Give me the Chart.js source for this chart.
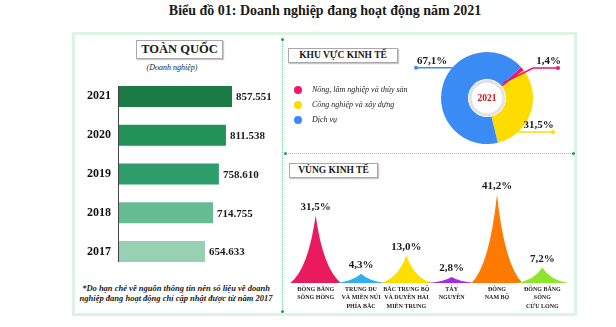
<!DOCTYPE html>
<html>
<head>
<meta charset="utf-8">
<script src="https://cdn.jsdelivr.net/npm/chart.js@4.4.0/dist/chart.umd.min.js"></script>
<style>
  body { margin: 0; width: 616px; height: 327px; background: #fff; position: relative; overflow: hidden; font-family: "Liberation Serif", serif; color: #1a1a1a; }
  .abs { position: absolute; }
  #title { left: 100px; width: 450px; top: 3px; text-align: center; font-weight: bold; font-size: 14px; }
  #frame { left: 72px; top: 32px; width: 505px; height: 284px; box-sizing: border-box; border: 3px solid #dcf4e4; }
  .tbox { background: #fff; border: 1px solid #a9a9a9; box-shadow: 1px 1px 1px #c8c8c8; box-sizing: border-box; text-align: center; font-weight: bold; }
  #tq { left: 136px; top: 40px; width: 87px; height: 19px; font-size: 12.5px; line-height: 17px; }
  #unit { left: 122px; width: 100px; top: 63px; text-align: center; font-style: italic; font-size: 8px; }
  #kv { left: 288px; top: 48px; width: 110px; height: 15px; font-size: 9.5px; line-height: 13px; }
  #vk { left: 289px; top: 163px; width: 89px; height: 15px; font-size: 9.5px; line-height: 13px; }
  #note { left: 70px; width: 212px; top: 283px; text-align: center; font-style: italic; font-weight: bold; font-size: 8.5px; line-height: 10px; }
  .vline { left: 282px; top: 39px; height: 272px; border-left: 1px dotted #7fcf9f; }
  .hline { left: 285px; top: 153px; width: 288px; border-top: 1px dotted #7fcf9f; }
  .dot { width: 3px; height: 3px; border-radius: 50%; background: #1f9a55; }
  canvas { position: absolute; }
</style>
</head>
<body>
<div id="title" class="abs">Biểu đồ 01: Doanh nghiệp đang hoạt động năm 2021</div>
<div id="frame" class="abs"></div>
<div class="abs vline"></div>
<div class="abs hline"></div>
<div class="abs dot" style="left:281px;top:38px"></div>
<div class="abs dot" style="left:281px;top:310px"></div>
<div class="abs dot" style="left:284px;top:152px"></div>
<div class="abs dot" style="left:572px;top:152px"></div>

<div id="tq" class="abs tbox">TOÀN QUỐC</div>
<div id="unit" class="abs">(Doanh nghiệp)</div>
<div id="kv" class="abs tbox">KHU VỰC KINH TẾ</div>
<div id="vk" class="abs tbox">VÙNG KINH TẾ</div>
<div id="note" class="abs">*Do hạn chế về nguồn thông tin nên số liệu về doanh<br>nghiệp đang hoạt động chỉ cập nhật được từ năm 2017</div>

<canvas id="barChart" width="205" height="194" style="left:75px;top:77px"></canvas>
<canvas id="pieChart" width="290" height="112" style="left:285px;top:38px"></canvas>
<canvas id="peakChart" width="290" height="162" style="left:285px;top:153px"></canvas>

<script>
// Toàn quốc - số doanh nghiệp đang hoạt động
const years = ['2021', '2020', '2019', '2018', '2017'];
const firms = [857551, 811538, 758610, 714755, 654633];
const barColors = ['#1b7b44', '#229257', '#2e9d6b', '#67bb93', '#97d0b3'];

// Khu vực kinh tế
const sectors = ['Nông, lâm nghiệp và thủy sản', 'Công nghiệp và xây dựng', 'Dịch vụ'];
const sectorShares = [1.4, 31.5, 67.1];
const sectorColors = ['#f2156b', '#ffdc00', '#3b8bf5'];

// Vùng kinh tế
const regions = [
  ['ĐỒNG BẰNG', 'SÔNG HỒNG'],
  ['TRUNG DU', 'VÀ MIỀN NÚI', 'PHÍA BẮC'],
  ['BẮC TRUNG BỘ', 'VÀ DUYÊN HẢI', 'MIỀN TRUNG'],
  ['TÂY', 'NGUYÊN'],
  ['ĐÔNG', 'NAM BỘ'],
  ['ĐỒNG BẰNG', 'SÔNG', 'CỬU LONG']
];
const regionShares = [31.5, 4.3, 13.0, 2.8, 41.2, 7.2];
const regionColors = ['#ea1a5e', '#2eb0f2', '#ffde00', '#a52ae6', '#ff7a00', '#8fe52b'];

const serif = 'Liberation Serif';
const pct = v => v.toFixed(1).replace('.', ',') + '%';

// value labels + axis line for the bar chart
const barLabels = {
  id: 'barLabels',
  afterDatasetsDraw(chart) {
    const ctx = chart.ctx;
    const bars = chart.getDatasetMeta(0).data;
    ctx.save();
    ctx.strokeStyle = '#444';
    ctx.lineWidth = 1;
    ctx.beginPath();
    ctx.moveTo(chart.chartArea.left + 0.5, bars[0].y - bars[0].height / 2);
    ctx.lineTo(chart.chartArea.left + 0.5, bars[bars.length - 1].y + bars[bars.length - 1].height / 2);
    ctx.stroke();
    ctx.fillStyle = '#1a1a1a';
    ctx.font = 'bold 11px ' + serif;
    ctx.textBaseline = 'middle';
    bars.forEach((b, i) => {
      const txt = String(firms[i]).replace(/\B(?=(\d{3})+(?!\d))/g, '.');
      ctx.fillText(txt, b.x + 4, b.y + 1);
    });
    ctx.restore();
  }
};

new Chart(document.getElementById('barChart'), {
  type: 'bar',
  data: {
    labels: years,
    datasets: [{
      data: firms,
      backgroundColor: barColors,
      barPercentage: 0.75,
      categoryPercentage: 0.72
    }]
  },
  options: {
    indexAxis: 'y',
    responsive: false,
    animation: false,
    layout: { padding: { right: 29 } },
    plugins: { legend: { display: false }, tooltip: { enabled: false } },
    scales: {
      x: { display: false, min: 0, max: 1000000 },
      y: {
        grid: { display: false, drawTicks: false },
        border: { display: false },
        ticks: { color: '#111', padding: 7, font: { family: serif, size: 12, weight: 'bold' } },
        afterFit: s => { s.width = 43; s.paddingTop = 0; s.paddingBottom = 0; }
      }
    }
  },
  plugins: [barLabels]
});

// callout geometry (deg clockwise from top, radius px)
const calloutStyle = [
  { a0: 47, r0: 22, a1: 57, r1: 55, toX: 273 },
  { a0: 137.6, r0: 46, toX: 268 },
  { a0: 311, r0: 46, toX: 131 }
];

const pieExtras = {
  id: 'pieExtras',
  afterDatasetsDraw(chart) {
    const ctx = chart.ctx;
    const arcs = chart.getDatasetMeta(0).data;
    const cx = arcs[0].x, cy = arcs[0].y;
    const rIn = arcs[0].innerRadius;
    ctx.save();
    // centre
    ctx.fillStyle = '#fff';
    ctx.beginPath(); ctx.arc(cx, cy, rIn, 0, Math.PI * 2); ctx.fill();
    ctx.strokeStyle = '#e2e2e2'; ctx.lineWidth = 3;
    ctx.beginPath(); ctx.arc(cx, cy, rIn - 2, 0, Math.PI * 2); ctx.stroke();
    ctx.fillStyle = '#d0161d';
    ctx.font = 'bold 9.5px ' + serif;
    ctx.textAlign = 'center'; ctx.textBaseline = 'middle';
    ctx.fillText('2021', cx, cy + 1);

    // callouts
    const pt = (a, r) => [cx + r * Math.sin(a * Math.PI / 180), cy - r * Math.cos(a * Math.PI / 180)];
    sectorShares.forEach((v, i) => {
      const s = calloutStyle[i];
      const col = sectorColors[i];
      const p0 = pt(s.a0, s.r0);
      const p1 = s.a1 !== undefined ? pt(s.a1, s.r1) : p0;
      ctx.strokeStyle = col; ctx.fillStyle = col; ctx.lineWidth = 1.5;
      ctx.beginPath();
      ctx.moveTo(p0[0], p0[1]);
      ctx.lineTo(p1[0], p1[1]);
      ctx.lineTo(s.toX, p1[1]);
      ctx.stroke();
      ctx.beginPath(); ctx.arc(s.toX, p1[1], 2, 0, Math.PI * 2); ctx.fill();
      ctx.fillStyle = '#1a1a1a';
      ctx.font = 'bold 11px ' + serif;
      ctx.textBaseline = 'bottom';
      ctx.textAlign = 'center';
      ctx.fillText(pct(v), (p1[0] + s.toX) / 2 + (i === 2 ? -2 : 3), p1[1] - 1);
    });

    // legend
    ctx.textAlign = 'left'; ctx.textBaseline = 'middle';
    ctx.font = 'italic 8px ' + serif;
    sectors.forEach((name, i) => {
      const y = 52 + i * 15;
      ctx.fillStyle = sectorColors[i];
      ctx.beginPath(); ctx.arc(13, y, 4, 0, Math.PI * 2); ctx.fill();
      ctx.fillStyle = '#222';
      ctx.fillText(name, 27, y);
    });
    ctx.restore();
  }
};

new Chart(document.getElementById('pieChart'), {
  type: 'doughnut',
  data: {
    labels: sectors,
    datasets: [{ data: sectorShares, backgroundColor: sectorColors, borderWidth: 0 }]
  },
  options: {
    responsive: false,
    animation: false,
    radius: 46,
    cutout: '41%',
    rotation: 48,
    layout: { padding: { left: 114, top: 8 } },
    plugins: { legend: { display: false }, tooltip: { enabled: false } }
  },
  plugins: [pieExtras]
});

// concave "peak" shapes drawn on the bar elements
const peaks = {
  id: 'peaks',
  afterDatasetsDraw(chart) {
    const ctx = chart.ctx;
    const bars = chart.getDatasetMeta(0).data;
    ctx.save();
    bars.forEach((b, i) => {
      const hw = b.width * 0.56;
      const h = b.base - b.y;
      ctx.fillStyle = regionColors[i];
      ctx.beginPath();
      ctx.moveTo(b.x - hw, b.base);
      ctx.quadraticCurveTo(b.x - hw * 0.3, b.base - h * 0.2, b.x, b.y);
      ctx.quadraticCurveTo(b.x + hw * 0.3, b.base - h * 0.2, b.x + hw, b.base);
      ctx.closePath();
      ctx.fill();
    });
    ctx.fillStyle = '#1a1a1a';
    ctx.font = 'bold 11px ' + serif;
    ctx.textAlign = 'center';
    ctx.textBaseline = 'bottom';
    bars.forEach((b, i) => ctx.fillText(pct(regionShares[i]), b.x, b.y - 3));
    ctx.restore();
  }
};

new Chart(document.getElementById('peakChart'), {
  type: 'bar',
  data: {
    labels: regions,
    datasets: [{
      data: regionShares,
      backgroundColor: 'rgba(0,0,0,0)',
      barPercentage: 1,
      categoryPercentage: 1
    }]
  },
  options: {
    responsive: false,
    animation: false,
    layout: { padding: { left: 8, right: 10, top: 23, bottom: 0 } },
    plugins: { legend: { display: false }, tooltip: { enabled: false } },
    scales: {
      y: { display: false, min: 0, max: 50 },
      x: {
        grid: { display: false, drawTicks: false },
        border: { display: false },
        ticks: {
          color: '#222', padding: 2, autoSkip: false, maxRotation: 0,
          font: { family: serif, size: 6, weight: 'bold', lineHeight: 1.4 }
        },
        afterFit: s => { s.height = 32; }
      }
    }
  },
  plugins: [peaks]
});
</script>
</body>
</html>
